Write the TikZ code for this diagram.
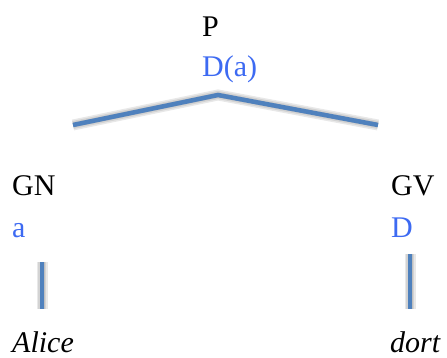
\documentclass[tikz,border=0pt]{standalone}
\usepackage{fontspec}
\setmainfont{Liberation Serif}
\usepackage{xcolor}
\definecolor{tsem}{HTML}{3D6AF2}
\definecolor{tbranch}{HTML}{4F81BD}
\usepackage{tikz}
\usetikzlibrary{positioning,calc}

\begin{document}
\begin{tikzpicture}[
  x=1pt,y=-1pt,
  font=\fontsize{30}{40}\selectfont,
  cat/.style={anchor=base west,inner sep=0pt},
  sem/.style={cat,text=tsem},
  word/.style={cat,font=\fontsize{30}{40}\selectfont\itshape},
  branch/.style={draw=tbranch,line width=4.5pt},
  blur/.style={draw=black,line width=#1,opacity=0.09,shift={(2.5pt,-4pt)}}
]
\useasboundingbox (0,0) rectangle (447,358);
% labels
\node[cat] (p) at (202,37) {P};
\node[sem] (pd) at (202,77) {D(a)};
\node[cat] (gn) at (12,196) {GN};
\node[sem] (gna) at (12,237) {a};
\node[cat] (gv) at (391,196) {GV};
\node[sem] (gvd) at (391,237) {D};
\node[word] (alice) at (12,352) {Alice};
\node[word] (dort) at (390,352) {dort};
% branch ends
\coordinate (apex) at (218,95);
\coordinate (gnend) at (73,125);
\coordinate (gvend) at (378,125);
\coordinate (gntop) at (42,262);
\coordinate (gnbot) at (42,309);
\coordinate (gvtop) at (410,254);
\coordinate (gvbot) at (410,309);
% shadows
\foreach \w in {11pt,8pt,5pt}{
  \draw[blur=\w] (gnend) -- (apex) -- (gvend);
  \draw[blur=\w] (gntop) -- (gnbot);
  \draw[blur=\w] (gvtop) -- (gvbot);
}
% branches
\draw[branch] (gnend) -- (apex) -- (gvend);
\draw[branch] (gntop) -- (gnbot);
\draw[branch] (gvtop) -- (gvbot);
\end{tikzpicture}
\end{document}
